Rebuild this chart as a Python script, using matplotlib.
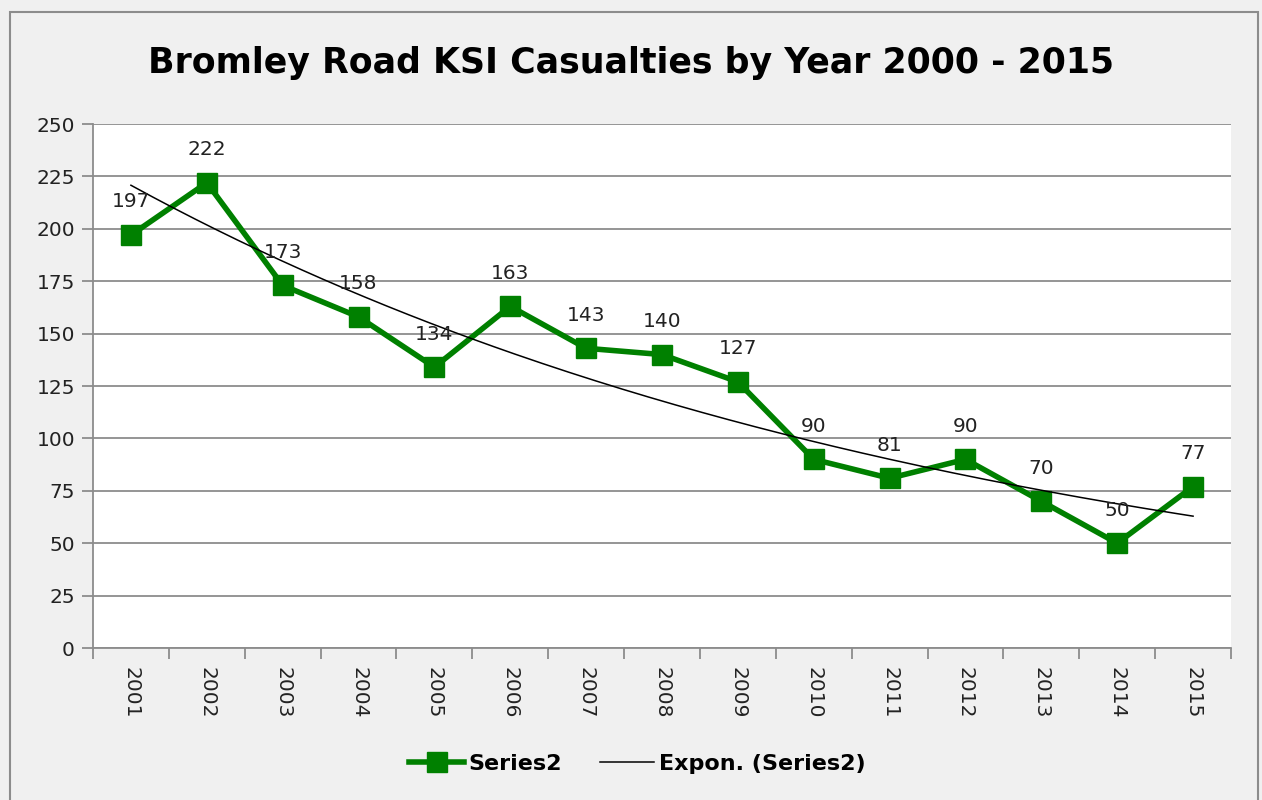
import numpy as np
import matplotlib
matplotlib.use("Agg")
import matplotlib.pyplot as plt
from matplotlib.patches import Rectangle

years = ["2001", "2002", "2003", "2004", "2005", "2006", "2007", "2008",
         "2009", "2010", "2011", "2012", "2013", "2014", "2015"]
series2 = [197, 222, 173, 158, 134, 163, 143, 140, 127, 90, 81, 90, 70, 50, 77]
yticks = [0, 25, 50, 75, 100, 125, 150, 175, 200, 225, 250]

plt.rcParams['font.family'] = ['DejaVu Sans']

fig = plt.figure(figsize=(12.62, 8.0), dpi=100, facecolor='#f0f0f0')
W, H = 1262, 800
ax = fig.add_axes([93 / W, 1 - 648 / H, (1231 - 93) / W, (648 - 124) / H])
ax.set_facecolor('white')

# outer border
fig.patches.append(Rectangle((10 / W, -0.01), (1258 - 10) / W, 1 - 12 / H + 0.01,
                             transform=fig.transFigure, fill=False,
                             edgecolor='#8c8c8c', linewidth=1.5))

x = np.arange(1, len(series2) + 1)
ax.set_xlim(0.5, len(series2) + 0.5)
ax.set_ylim(0, 250)

ax.set_yticks(yticks)
ax.yaxis.grid(True, color='#8c8c8c', linewidth=1.3)
ax.set_axisbelow(True)
for s in ['top', 'right']:
    ax.spines[s].set_visible(False)
for s in ['left', 'bottom']:
    ax.spines[s].set_color('#8c8c8c')
    ax.spines[s].set_linewidth(1.3)

ax.tick_params(axis='y', length=8, width=1.3, color='#8c8c8c', labelsize=14.5,
               labelcolor='#222222', pad=5)
ax.set_xticks(x)
ax.set_xticklabels(years, rotation=270, fontsize=14.5, color='#222222')
ax.tick_params(axis='x', length=0, pad=14)
ax.set_xticks(np.arange(0.5, len(series2) + 1.0, 1.0), minor=True)
ax.tick_params(axis='x', which='minor', length=8, width=1.3, color='#8c8c8c')

ln1, = ax.plot(x, series2, color='#008000', linewidth=4, marker='s',
               markersize=15, label='Series2', zorder=3)

# exponential trendline fitted to the series
b, a = np.polyfit(x, np.log(series2), 1)
xt = np.linspace(1, len(series2), 200)
ln2, = ax.plot(xt, np.exp(a + b * xt), color='black', linewidth=1.1,
               label='Expon. (Series2)', zorder=4)

for xi, v in zip(x, series2):
    ax.annotate(str(v), (xi, v), xytext=(0, 17), textcoords='offset points',
                ha='center', va='bottom', fontsize=14.5, color='#222222', zorder=5)

fig.text(0.5, 1 - 63 / H, 'Bromley Road KSI Casualties by Year 2000 - 2015',
         ha='center', va='center', fontsize=25, fontweight='bold', color='black')

leg = fig.legend(handles=[ln1, ln2], loc='center', bbox_to_anchor=(0.505, 1 - 764 / H),
                 ncol=2, frameon=False, prop={'size': 16, 'weight': 'bold'},
                 handlelength=2.45, columnspacing=1.7, handletextpad=0.2)

fig.savefig('out.png', dpi=100, facecolor=fig.get_facecolor())
